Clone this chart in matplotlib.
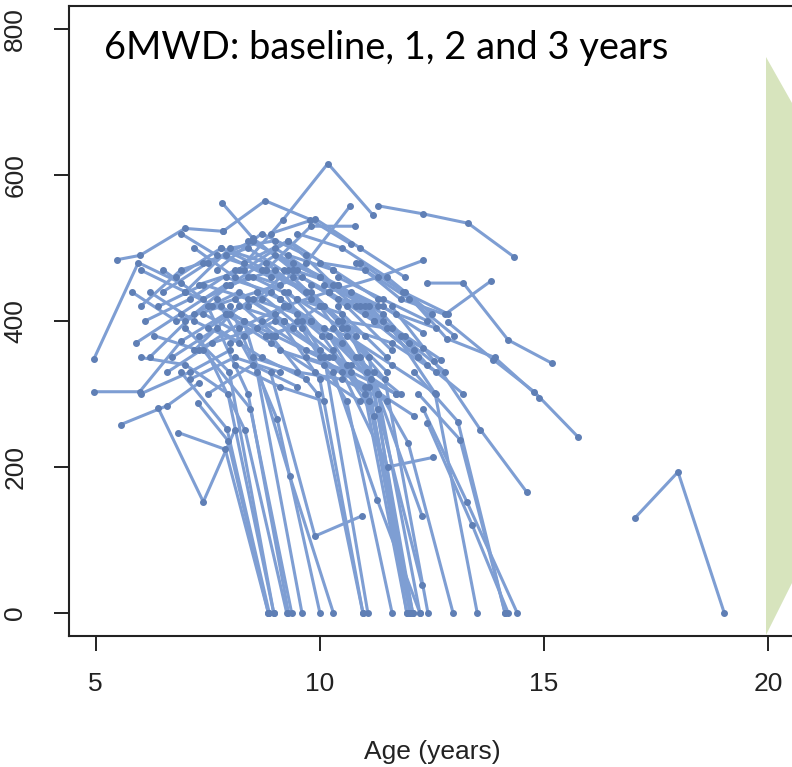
import matplotlib
matplotlib.use("Agg")
import matplotlib.pyplot as plt
from matplotlib.patches import Polygon

# Six-minute walk distance (m) by age, one visit per year (baseline, 1, 2, 3 years)
# Patients still walking at the last visit
ambulant_ages = [
    [5.47, 5.99, 6.99, 7.84], [7.84, 8.78, 9.79, 10.7], [8.2, 9.18, 10.18, 11.19],
    [11.3, 12.3, 13.31, 14.33], [7.82, 8.5, 9.4], [4.96, 5.95, 6.9],
    [4.96, 5.98, 6.9, 7.9], [5.56, 6.6, 7.3], [6.39, 7.4, 8.1],
    [12.39, 13.2, 14.2, 15.18], [10.8, 11.8, 12.79, 13.82], [12.86, 13.87, 14.78, 15.76],
    [11.9, 12.83, 13.9, 14.9], [11.6, 12.55, 13.58, 14.62], [10.2, 11.3, 12.3],
    [8.9, 9.89, 10.95], [10.5, 11.52, 12.53], [8.7, 9.7, 10.68],
    [8.8, 9.8, 10.79], [10.3, 11.3, 12.28], [10.3, 11.3, 12.28],
    [6.0, 7.0, 8.0, 9.0], [6.1, 7.1, 8.1, 9.1], [6.2, 7.2, 8.2, 9.2],
    [6.0, 6.9, 7.9, 8.9], [6.5, 7.5, 8.5, 9.5], [6.8, 7.8, 8.8, 9.8],
    [7.0, 8.0, 9.0, 10.0], [7.2, 8.2, 9.2, 10.2], [7.4, 8.4, 9.4, 10.4],
    [7.6, 8.6, 9.6, 10.6], [7.8, 8.8, 9.8, 10.8], [8.0, 9.0, 10.0, 11.0],
    [8.2, 9.2, 10.2, 11.2], [8.4, 9.4, 10.4, 11.4], [8.6, 9.6, 10.6, 11.6],
    [8.8, 9.8, 10.8, 11.8], [9.0, 10.0, 11.0, 12.0], [9.2, 10.2, 11.2, 12.2],
    [9.4, 10.4, 11.4, 12.4], [9.6, 10.6, 11.6, 12.6], [9.8, 10.8, 11.8, 12.8],
    [10.0, 11.0, 12.0, 13.0], [6.3, 7.3, 8.3], [6.6, 7.6, 8.6],
    [5.9, 6.9, 7.9], [7.1, 8.1, 9.1], [7.5, 8.5, 9.5],
    [8.1, 9.1, 10.1], [6.9, 7.7, 8.7, 9.7], [7.3, 8.3, 9.3, 10.3],
    [5.8, 6.8, 7.8, 8.8], [6.7, 7.7, 8.7, 9.7], [8.5, 9.5, 10.5, 11.5],
    [9.1, 10.1, 11.1, 12.1], [10.4, 11.4, 12.4], [10.6, 11.6, 12.6],
    [10.9, 11.9, 12.7], [11.2, 12.2, 13.2], [7.9, 8.9, 9.9, 10.9],
    [6.4, 7.4, 8.4, 9.4], [8.3, 9.3, 10.3, 11.3], [9.5, 10.5, 11.5, 12.5],
    [7.7, 8.7, 9.7], [8.9, 9.9, 10.9, 11.9], [10.4, 11.4, 12.3],
    [10.5, 11.5, 12.3], [10.9, 11.85, 12.85], [6.0, 7.1, 8.0],
    [7.0, 8.0, 9.0], [7.5, 8.5, 9.5, 10.5], [8.0, 9.0, 10.0],
    [8.5, 9.5, 10.5, 11.5], [9.0, 10.0, 11.0], [9.5, 10.5, 11.5],
    [6.5, 7.4, 8.4], [7.2, 8.1, 9.1, 10.1], [8.1, 9.0, 10.0, 11.0],
    [9.3, 10.3, 11.3], [10.1, 11.1, 12.1], [7.9, 8.9, 9.8],
    [6.2, 7.2, 8.2], [8.7, 9.7, 10.7, 11.7], [9.7, 10.7, 11.7],
    [7.4, 8.3, 9.3], [10.7, 11.7, 12.6], [8.4, 9.3, 10.2],
]
ambulant_6mwd = [
    [484, 490, 527, 523], [523, 565, 539, 505], [470, 539, 616, 545],
    [558, 547, 534, 488], [562, 514, 470], [348, 480, 452],
    [303, 303, 372, 410], [258, 284, 315], [281, 152, 250],
    [452, 452, 374, 342], [480, 430, 409, 455], [398, 347, 303, 241],
    [440, 376, 350, 295], [420, 345, 251, 165], [440, 460, 483],
    [330, 105, 133], [330, 200, 213], [430, 480, 558],
    [470, 530, 530], [350, 280, 38], [390, 300, 133],
    [470, 440, 500, 510], [400, 430, 470, 450], [350, 410, 440, 400],
    [420, 470, 490, 460], [440, 480, 510, 470], [460, 500, 480, 430],
    [400, 450, 470, 420], [360, 420, 400, 350], [480, 500, 460, 400],
    [420, 440, 390, 340], [500, 470, 440, 380], [450, 490, 460, 410],
    [390, 420, 380, 330], [510, 480, 450, 400], [440, 460, 420, 360],
    [380, 400, 350, 300], [500, 460, 420, 370], [420, 440, 400, 350],
    [470, 450, 410, 340], [400, 380, 340, 300], [450, 420, 380, 330],
    [480, 470, 430, 380], [380, 360, 400], [330, 370, 390],
    [370, 410, 450], [320, 350, 330], [300, 340, 310],
    [340, 310, 290], [520, 490, 470, 440], [450, 470, 510, 470],
    [440, 400, 420, 380], [350, 390, 350, 320], [350, 330, 320, 290],
    [360, 340, 310, 270], [460, 430, 400], [390, 370, 330],
    [420, 380, 347], [400, 350, 300], [410, 370, 330, 290],
    [420, 450, 430, 390], [480, 510, 450, 420], [520, 500, 460, 410],
    [470, 520, 490], [520, 540, 500, 460], [430, 420, 384],
    [400, 390, 363], [480, 440, 410], [300, 330, 360],
    [440, 410, 380], [390, 430, 410, 370], [370, 400, 360],
    [460, 430, 390, 330], [380, 420, 380], [430, 410, 350],
    [470, 430, 460], [500, 460, 430, 390], [430, 380, 350, 310],
    [490, 470, 430], [450, 420, 360], [460, 440, 400],
    [440, 400, 370], [400, 360, 340, 300], [350, 330, 300],
    [410, 380, 420], [440, 410, 390], [420, 470, 440],
]

# Patients who lost ambulation (distance 0 m) at the last visit
lost_ages = [
    [6.84, 7.89, 8.85], [7.28, 7.95, 8.85], [6.9, 7.93, 8.87],
    [6.0, 7.0, 7.95, 8.97], [7.0, 7.98, 8.97], [7.3, 8.33, 9.26],
    [7.5, 8.4, 9.3], [7.4, 8.45, 9.37], [7.7, 8.6, 9.6],
    [8.0, 9.05, 10.0], [8.3, 9.33, 10.3], [9.0, 10.0, 10.96],
    [8.9, 9.95, 10.96], [9.2, 10.1, 11.07], [9.5, 10.6, 11.61],
    [9.1, 10.05, 11.0, 11.94], [10.0, 11.05, 11.94], [9.2, 10.1, 11.1, 12.01],
    [10.2, 11.1, 12.01], [9.3, 10.2, 11.15, 12.07], [10.3, 11.2, 12.07],
    [10.4, 11.3, 12.23], [10.3, 11.28, 12.23], [10.5, 11.45, 12.41],
    [10.9, 11.97, 12.97], [11.6, 12.57, 13.51], [12.1, 13.08, 14.13],
    [12.2, 13.13, 14.13], [12.4, 13.4, 14.2], [12.3, 13.28, 14.4],
    [17.03, 17.99, 19.02],
]
lost_6mwd = [
    [247, 224, 0], [287, 236, 0], [330, 252, 0],
    [350, 340, 300, 0], [390, 330, 0], [380, 250, 0],
    [420, 300, 0], [360, 280, 0], [430, 330, 0],
    [420, 265, 0], [400, 187, 0], [410, 320, 0],
    [380, 300, 0], [440, 350, 0], [400, 290, 0],
    [430, 380, 300, 0], [420, 330, 0], [470, 420, 350, 0],
    [380, 290, 0], [440, 380, 320, 0], [360, 270, 0],
    [420, 300, 0], [330, 155, 0], [390, 320, 0],
    [350, 233, 0], [390, 301, 0], [330, 262, 0],
    [300, 237, 0], [260, 120, 0], [280, 152, 0],
    [130, 193, 0],
]

x_ticks = [5, 10, 15, 20]
y_ticks = [0, 200, 400, 600, 800]
title_text = "6MWD: baseline, 1, 2 and 3 years"
x_label = "Age (years)"

LINE = "#7e9ed3"
DOT = "#5f7fb5"
W, H = 792, 767
fig = plt.figure(figsize=(W / 100, H / 100), dpi=100)

# plot region in pixels: left 69, right 795 (runs just past the edge), top 6, bottom 636
ax = fig.add_axes([69 / W, (H - 636) / H, 726 / W, 630 / H])
ax.set_xlim(4.404, 20.6)
ax.set_ylim(-32, 832)

for ages, dist in zip(ambulant_ages + lost_ages, ambulant_6mwd + lost_6mwd):
    ax.plot(ages, dist, color=LINE, lw=2.2, solid_capstyle="round", zorder=2)
    ax.plot(ages, dist, ls="none", marker="o", ms=4.0, color=DOT, mec=DOT, zorder=3)

tick_font = ["Liberation Sans Narrow", "Liberation Sans", "DejaVu Sans"]
ax.set_xticks(x_ticks)
ax.set_yticks(y_ticks)
ax.set_xticklabels([str(v) for v in x_ticks], fontsize=19, family=tick_font, color="#222222")
ax.set_yticklabels([str(v) for v in y_ticks], fontsize=19, family=tick_font, color="#222222")
for lbl in ax.get_yticklabels():
    lbl.set_rotation(90)
    lbl.set_va("center")
ax.tick_params(axis="both", direction="out", length=11, width=1.4, color="#222222")
ax.tick_params(axis="x", pad=15)
ax.tick_params(axis="y", pad=19)
for side in ax.spines.values():
    side.set_linewidth(1.5)
    side.set_color("#222222")

fig.text(432 / W, (H - 752) / H, x_label, ha="center", va="center",
         fontsize=19, family=tick_font, color="#222222")

# title, fitted to span 104..668 px
t = fig.text(104 / W, (H - 59) / H, title_text, ha="left", va="baseline",
             fontsize=26, family=["Lato", "DejaVu Sans"], color="black")
fig.canvas.draw()
ext = t.get_window_extent()
t.set_fontsize(26 * 564 / ext.width)

# green callout arrow on the right edge
arrow = Polygon([(766 / W, (H - 57) / H), (792 / W, (H - 103) / H),
                 (792 / W, (H - 583) / H), (766 / W, (H - 635) / H)],
                closed=True, transform=fig.transFigure, facecolor="#d7e4bd",
                edgecolor="none", zorder=5)
fig.add_artist(arrow)

fig.savefig("out.png", dpi=100)
